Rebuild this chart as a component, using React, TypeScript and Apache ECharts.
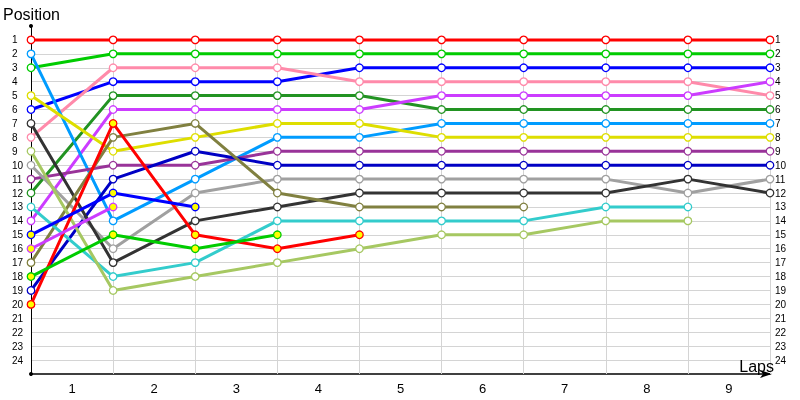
import React, { useEffect, useRef } from "react";
import * as echarts from "echarts";

// Lap indices (0 = grid/start position)
const lapIndex = [0, 1, 2, 3, 4, 5, 6, 7, 8, 9];
const lapLabels = ["1", "2", "3", "4", "5", "6", "7", "8", "9"];
const gridLaps = [1, 2, 3, 4, 5, 6, 7, 8, 9];
const positionLabels = [
  "1", "2", "3", "4", "5", "6", "7", "8", "9", "10", "11", "12",
  "13", "14", "15", "16", "17", "18", "19", "20", "21", "22", "23", "24",
];

// Positions per lap (start, lap1 ... lap9)
const red = [1, 1, 1, 1, 1, 1, 1, 1, 1, 1];
const green = [3, 2, 2, 2, 2, 2, 2, 2, 2, 2];
const blue = [6, 4, 4, 4, 3, 3, 3, 3, 3, 3];
const pink = [8, 3, 3, 3, 4, 4, 4, 4, 4, 5];
const darkGreen = [12, 5, 5, 5, 5, 6, 6, 6, 6, 6];
const magenta = [14, 6, 6, 6, 6, 5, 5, 5, 5, 4];
const lightBlue = [2, 14, 11, 8, 8, 7, 7, 7, 7, 7];
const yellow = [5, 9, 8, 7, 7, 8, 8, 8, 8, 8];
const purple = [11, 10, 10, 9, 9, 9, 9, 9, 9, 9];
const darkBlue = [19, 11, 9, 10, 10, 10, 10, 10, 10, 10];
const gray = [10, 16, 12, 11, 11, 11, 11, 11, 12, 11];
const darkGray = [7, 17, 14, 13, 12, 12, 12, 12, 11, 12];
const olive = [17, 8, 7, 12, 13, 13, 13];
const cyan = [13, 18, 17, 14, 14, 14, 14, 13, 13];
const lightGreen = [9, 19, 18, 17, 16, 15, 15, 14, 14];
const red2 = [20, 7, 15, 16, 15];
const green2 = [18, 15, 16, 15];
const blue2 = [15, 12, 13];
const magenta2 = [16, 13];

const seriesDefs = [
  { name: "Red", values: red, color: "#ff0000", fill: "#ffffff" },
  { name: "Green", values: green, color: "#00cc00", fill: "#ffffff" },
  { name: "Blue", values: blue, color: "#0000ff", fill: "#ffffff" },
  { name: "Pink", values: pink, color: "#ff8aaa", fill: "#ffffff" },
  { name: "Dark green", values: darkGreen, color: "#229322", fill: "#ffffff" },
  { name: "Magenta", values: magenta, color: "#cc3cff", fill: "#ffffff" },
  { name: "Light blue", values: lightBlue, color: "#009cff", fill: "#ffffff" },
  { name: "Yellow", values: yellow, color: "#dede00", fill: "#ffffff" },
  { name: "Purple", values: purple, color: "#993399", fill: "#ffffff" },
  { name: "Dark blue", values: darkBlue, color: "#0000c4", fill: "#ffffff" },
  { name: "Gray", values: gray, color: "#a0a0a0", fill: "#ffffff" },
  { name: "Dark gray", values: darkGray, color: "#333333", fill: "#ffffff" },
  { name: "Olive", values: olive, color: "#808040", fill: "#ffffff" },
  { name: "Cyan", values: cyan, color: "#33cccc", fill: "#ffffff" },
  { name: "Light green", values: lightGreen, color: "#a6c862", fill: "#ffffff" },
  { name: "Red 2", values: red2, color: "#ff0000", fill: "#ffff00" },
  { name: "Green 2", values: green2, color: "#00cc00", fill: "#ffff00" },
  { name: "Blue 2", values: blue2, color: "#0000ff", fill: "#ffff00" },
  { name: "Magenta 2", values: magenta2, color: "#cc3cff", fill: "#ffff00" },
];

const FONT = "Liberation Sans";
const Y_MIN = 0;
const Y_MAX = 25;
const GRID_COLOR = "#d4d4d4";

export default function App() {
  const ref = useRef<HTMLDivElement>(null);

  useEffect(() => {
    if (!ref.current) return;
    const chart = echarts.init(ref.current, undefined, { renderer: "svg" });

    const posFormatter = (v: number) =>
      v >= 1 && v <= positionLabels.length ? positionLabels[v - 1] : "";

    const series: any[] = seriesDefs.map((s) => ({
      name: s.name,
      type: "line",
      xAxisIndex: 0,
      yAxisIndex: 0,
      data: s.values.map((p, i) => [lapIndex[i], p]),
      symbol: "circle",
      symbolSize: 7.5,
      showAllSymbol: true,
      lineStyle: { color: s.color, width: 3 },
      itemStyle: { color: s.fill, borderColor: s.color, borderWidth: 1.3 },
      emphasis: { disabled: true },
      silent: true,
    }));

    series.unshift({
      name: "grid",
      type: "line",
      data: [],
      silent: true,
      z: 1,
      markLine: {
        silent: true,
        z: 1,
        symbol: "none",
        animation: false,
        label: { show: false },
        lineStyle: { color: GRID_COLOR, width: 1, type: "solid" },
        emphasis: { disabled: true },
        data: gridLaps.map((l) => [
          { coord: [l, 1] },
          { coord: [l, Y_MAX] },
        ]),
      },
    });

    chart.setOption({
      animation: false,
      title: {
        text: "Position",
        left: 3,
        top: 6,
        padding: 0,
        textStyle: { fontSize: 16, fontWeight: "normal", color: "#000", fontFamily: FONT },
      },
      graphic: [
        {
          type: "text",
          right: 26,
          bottom: 26,
          z: 10,
          style: {
            text: "Laps",
            fontSize: 16,
            fontFamily: FONT,
            fill: "#000",
          },
        },
      ],
      grid: {
        left: 31,
        right: 30,
        top: 26,
        bottom: 26,
        containLabel: false,
        outerBoundsMode: "none",
      },
      xAxis: [
        {
          type: "value",
          min: 0,
          max: 9,
          interval: 0.5,
          axisLine: {
            show: true,
            onZero: false,
            lineStyle: { color: "#000", width: 1.5 },
            symbol: ["none", "arrow"],
            symbolSize: [6, 12],
            symbolOffset: [0, 2],
          },
          axisTick: { show: false },
          splitLine: { show: false },
          axisLabel: {
            formatter: (v: number) =>
              Number.isInteger(v) ? "" : lapLabels[Math.floor(v)],
            fontSize: 13,
            color: "#000",
            fontFamily: FONT,
            margin: 8,
          },
        },
      ],
      yAxis: [
        {
          type: "value",
          inverse: true,
          min: Y_MIN,
          max: Y_MAX,
          interval: 1,
          position: "left",
          axisLine: {
            show: true,
            onZero: false,
            lineStyle: { color: "#000", width: 1 },
            symbol: ["circle", "circle"],
            symbolSize: [4, 4],
          },
          axisTick: { show: false },
          splitLine: {
            show: true,
            showMinLine: false,
            showMaxLine: false,
            lineStyle: { color: GRID_COLOR, width: 1 },
          },
          axisLabel: {
            formatter: posFormatter,
            align: "left",
            margin: 19,
            fontSize: 10,
            color: "#000",
            fontFamily: FONT,
          },
        },
        {
          type: "value",
          inverse: true,
          min: Y_MIN,
          max: Y_MAX,
          interval: 1,
          position: "right",
          axisLine: { show: false, onZero: false },
          axisTick: { show: false },
          splitLine: { show: false },
          axisLabel: {
            formatter: posFormatter,
            align: "left",
            margin: 5,
            fontSize: 10,
            color: "#000",
            fontFamily: FONT,
          },
        },
      ],
      series,
    });

    return () => chart.dispose();
  }, []);

  return (
    <div
      ref={ref}
      style={{ position: "fixed", left: 0, top: 0, width: 800, height: 400 }}
    />
  );
}
